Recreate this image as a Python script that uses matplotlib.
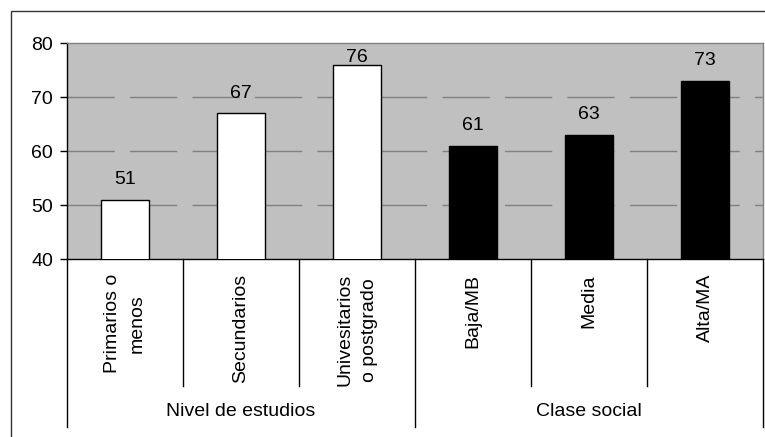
import matplotlib.pyplot as plt
import matplotlib.transforms as mtransforms
from matplotlib.patches import Rectangle

plt.rcParams['font.family'] = ['Liberation Sans', 'DejaVu Sans']

# datos
categorias = ['Primarios o\nmenos', 'Secundarios', 'Univesitarios\no postgrado',
              'Baja/MB', 'Media', 'Alta/MA']
valores = [51, 67, 76, 61, 63, 73]
colores = ['white', 'white', 'white', 'black', 'black', 'black']
grupos = ['Nivel de estudios', 'Clase social']
grupo_rango = [(0, 2), (3, 5)]
yticks = [40, 50, 60, 70, 80]

FS = 14
W, H = 765, 437
fig = plt.figure(figsize=(W / 100, H / 100), dpi=100)
ax = fig.add_axes([67 / W, 1 - 259 / H, (763 - 67) / W, (259 - 43) / H])
ax.set_facecolor('#C0C0C0')

# marco exterior
fig.patches.append(Rectangle((11 / W, -0.1), 1.2, 1 - 11 / H + 0.1,
                             transform=fig.transFigure, fill=False,
                             edgecolor='#333333', linewidth=1.0))

x = list(range(len(valores)))
ax.bar(x, valores, width=0.41, bottom=0, color=colores, edgecolor='black',
       linewidth=1.0, zorder=3)

ax.set_xlim(-0.5, len(valores) - 0.5)
ax.set_ylim(40, 80)
ax.set_yticks(yticks)
ax.set_yticklabels([str(t) for t in yticks], fontsize=FS)
ax.tick_params(axis='y', direction='out', length=5, width=1, pad=5)
ax.set_xticks([])

for t in yticks[1:-1]:
    ax.axhline(t, color='#808080', linewidth=1, dashes=(34, 11), zorder=1)

for s in ['top', 'right']:
    ax.spines[s].set_color('#808080')
for s in ['left', 'bottom']:
    ax.spines[s].set_color('black')
for s in ax.spines.values():
    s.set_linewidth(1)

# etiquetas de valor
for xi, v in zip(x, valores):
    ax.text(xi, min(v + 3.7, 77.4), str(v), ha='center', va='center',
            fontsize=FS, zorder=4)

trans = mtransforms.blended_transform_factory(ax.transData, ax.transAxes)

# separadores bajo el eje
for b in range(len(valores) + 1):
    xb = b - 0.5
    exterior = b in (0, 3, len(valores))
    y0 = -0.778 if exterior else -0.588
    ax.plot([xb, xb], [0, y0], transform=trans, color='black',
            linewidth=1, clip_on=False)

for xi, cat in zip(x, categorias):
    ax.text(xi, -0.07, cat, transform=trans, rotation=90, ha='center',
            va='top', multialignment='center', fontsize=FS, linespacing=1.6)

for g, (a, b) in zip(grupos, grupo_rango):
    ax.text((a + b) / 2, -0.708, g, transform=trans, ha='center',
            va='center', fontsize=FS)

fig.savefig('out.png', dpi=100)
